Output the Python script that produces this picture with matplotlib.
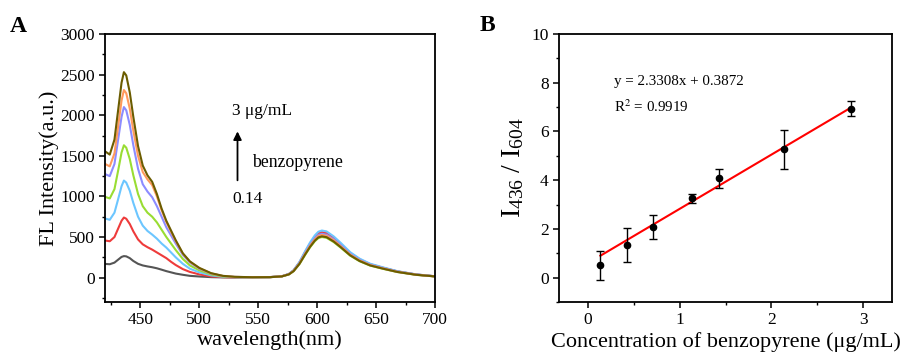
import numpy as np
import matplotlib
matplotlib.use("Agg")
import matplotlib.pyplot as plt
from matplotlib.ticker import MultipleLocator

plt.rcParams['font.family'] = ['Liberation Serif', 'DejaVu Serif']
plt.rcParams['mathtext.fontset'] = 'stix'

# DATA - panel A, fluorescence spectra
wavelength = [420, 424, 428, 431, 434, 436, 438, 441, 444, 448, 452, 456, 460, 464,
              468, 472, 476, 480, 486, 492, 500, 510, 520, 530, 545, 560, 570, 576,
              580, 585, 590, 594, 598, 601, 604, 608, 614, 620, 628, 636, 645, 656,
              668, 684, 700]

spec_014 = [169, 165, 185, 220, 255, 265, 262, 240, 205, 170, 150, 138, 128, 115,
            98, 80, 65, 50, 35, 22, 14, 6, 3, 2,
            5, 6, 16, 43, 87, 184, 314, 412, 493, 536, 550, 539, 482, 406, 298, 222, 162, 119, 76, 38, 16]
spec_043 = [457, 448, 500, 600, 700, 740, 725, 660, 570, 470, 410, 375, 345, 310,
            275, 240, 195, 155, 105, 70, 40, 15, 6, 3,
            6, 7, 17, 44, 88, 187, 320, 419, 501, 545, 560, 549, 490, 413, 303, 226, 165, 121, 77, 39, 17]
spec_071 = [728, 712, 800, 960, 1125, 1195, 1170, 1070, 920, 750, 640, 575, 530, 480,
            420, 370, 310, 250, 170, 110, 65, 28, 10, 5,
            6, 7, 17, 46, 91, 194, 331, 434, 520, 565, 580, 569, 508, 428, 314, 234, 171, 126, 80, 40, 17]
spec_114 = [995, 975, 1090, 1310, 1540, 1630, 1600, 1460, 1260, 1030, 880, 800, 750, 680,
            590, 500, 420, 340, 230, 150, 90, 40, 15, 7,
            5, 6, 15, 39, 79, 167, 285, 374, 448, 487, 500, 490, 438, 369, 271, 202, 148, 108, 69, 34, 15]
spec_143 = [1275, 1250, 1400, 1690, 1980, 2100, 2060, 1880, 1630, 1340, 1150, 1060, 990, 880,
            750, 620, 520, 420, 280, 185, 110, 50, 20, 9,
            5, 6, 16, 43, 85, 181, 308, 404, 484, 526, 540, 529, 473, 399, 292, 218, 159, 117, 74, 37, 16]
spec_214 = [1400, 1370, 1530, 1850, 2180, 2310, 2270, 2080, 1810, 1500, 1300, 1210, 1140, 1000,
            830, 685, 565, 450, 295, 195, 115, 52, 20, 9,
            5, 6, 16, 41, 83, 176, 300, 393, 470, 511, 525, 514, 460, 387, 284, 212, 155, 114, 72, 36, 15]
spec_286 = [1555, 1515, 1700, 2050, 2400, 2530, 2490, 2280, 1980, 1620, 1380, 1260, 1180, 1030,
            850, 700, 580, 460, 300, 200, 120, 55, 22, 10,
            5, 6, 15, 40, 80, 170, 290, 380, 455, 495, 508, 498, 445, 375, 275, 205, 150, 110, 70, 35, 15]

spectra = [spec_014, spec_043, spec_071, spec_114, spec_143, spec_214, spec_286]
spec_colors = ['#555555', '#ee3b3b', '#6cc6ff', '#99dd33', '#8c8cff', '#ff9a5c', '#6b5c00']

# DATA - panel B, calibration points
conc = [0.14, 0.43, 0.71, 1.14, 1.43, 2.14, 2.86]
ratio = [0.50, 1.33, 2.07, 3.25, 4.07, 5.27, 6.93]
ratio_err = [0.60, 0.70, 0.50, 0.20, 0.40, 0.80, 0.30]
fit_x = [0.14, 2.86]
fit_y = [0.90, 6.97]

fig = plt.figure(figsize=(9.04, 3.56), dpi=100)
axA = fig.add_axes([0.1162, 0.1517, 0.365, 0.7528])
axB = fig.add_axes([0.6184, 0.1517, 0.3683, 0.7528])

# PANEL A
for y, c in zip(spectra, spec_colors):
    axA.plot(wavelength, y, color=c, lw=1.5, solid_joinstyle='round')
axA.set_xlim(420, 700)
axA.set_ylim(-300, 3000)
axA.xaxis.set_major_locator(MultipleLocator(50))
axA.xaxis.set_minor_locator(MultipleLocator(25))
axA.yaxis.set_major_locator(MultipleLocator(500))
axA.yaxis.set_minor_locator(MultipleLocator(250))
axA.set_xlabel('wavelength(nm)', fontsize=16, labelpad=1)
axA.set_ylabel('FL Intensity(a.u.)', fontsize=16, labelpad=1)

axA.annotate('', xy=(532.4, 1835), xytext=(532.4, 1164),
             arrowprops=dict(arrowstyle='-|>', color='black', lw=1.3, mutation_scale=12))
axA.text(527.5, 2050, '3 μg/mL', fontsize=12.5, ha='left', va='center')
axA.text(544.8, 1423, 'benzopyrene', fontsize=12.8, ha='left', va='center')
axA.text(527.8, 963, '0.14', fontsize=12.5, ha='left', va='center')

# PANEL B
axB.errorbar(conc, ratio, yerr=ratio_err, fmt='o', color='black', ms=4.5,
             ecolor='black', elinewidth=1, capsize=3, capthick=1, zorder=3)
axB.plot(fit_x, fit_y, color='red', lw=1.5, zorder=2)
axB.set_xlim(-0.31, 3.31)
axB.set_ylim(-1, 10)
axB.xaxis.set_major_locator(MultipleLocator(1))
axB.xaxis.set_minor_locator(MultipleLocator(0.5))
axB.yaxis.set_major_locator(MultipleLocator(2))
axB.yaxis.set_minor_locator(MultipleLocator(1))
axB.set_xlabel('Concentration of benzopyrene (μg/mL)', fontsize=16, labelpad=3)
axB.set_ylabel(r'$\mathregular{I_{436}\ /\ I_{604}}$', fontsize=20, labelpad=4)
axB.text(0.286, 8.04, 'y = 2.3308x + 0.3872', fontsize=10.8, ha='left', va='center')
axB.text(0.286, 7.0, r'R$^{2}$ = 0.9919', fontsize=10.8, ha='left', va='center')

for ax in (axA, axB):
    for s in ax.spines.values():
        s.set_linewidth(1.3)
    ax.tick_params(which='major', direction='out', length=4, width=1.1, labelsize=12.5,
                   top=False, right=False)
    ax.tick_params(which='minor', direction='out', length=2, width=1.0,
                   top=False, right=False)

fig.text(0.011, 0.925, 'A', fontsize=17, fontweight='bold', va='center')
fig.text(0.531, 0.928, 'B', fontsize=17, fontweight='bold', va='center')

fig.savefig('out.png', dpi=100)
